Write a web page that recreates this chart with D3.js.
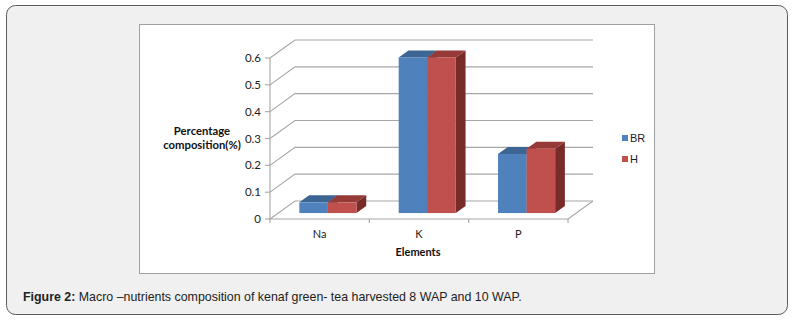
<!DOCTYPE html>
<html>
<head>
<meta charset="utf-8">
<script src="https://cdn.jsdelivr.net/npm/d3@7"></script>
<style>
  html, body { margin: 0; padding: 0; background: #ffffff; }
  svg { display: block; }
</style>
</head>
<body>
<div id="chart"></div>
<script>
// Macro-nutrient composition (%) of kenaf green tea
const categories = ["Na", "K", "P"];
const seriesNames = ["BR", "H"];
const valuesBR = [0.04, 0.58, 0.22];
const valuesH  = [0.04, 0.58, 0.24];
const yTicks = [0, 0.1, 0.2, 0.3, 0.4, 0.5, 0.6];

const seriesColors = {
  BR: { front: "#4f81bd", top: "#3d6594", side: "#385d8a" },
  H:  { front: "#c0504d", top: "#953a37", side: "#772c2a" }
};

const W = 796, H = 324;
const svg = d3.select("#chart").append("svg")
  .attr("width", W).attr("height", H);

// outer figure panel
svg.append("rect")
  .attr("x", 6.5).attr("y", 5.5).attr("width", 781).attr("height", 309)
  .attr("rx", 9).attr("ry", 9)
  .attr("fill", "#f0f0f0").attr("stroke", "#5a5a5a").attr("stroke-width", 1);

// chart area
svg.append("rect")
  .attr("x", 139.5).attr("y", 24.5).attr("width", 515).attr("height", 249)
  .attr("fill", "#ffffff").attr("stroke", "#a0a0a0").attr("stroke-width", 1);

// scales (front plane) plus an oblique depth offset
const x = d3.scaleBand().domain(categories).range([270, 568]).paddingInner(0).paddingOuter(0);
const y = d3.scaleLinear().domain([0, 0.6]).range([219, 58]);
const DX = 25, DY = -18;
const proj = (px, py, z) => [px + z * DX, py + z * DY];

const grid = svg.append("g").attr("fill", "none").attr("stroke", "#a6a6a6").attr("stroke-width", 1.1);

// side wall diagonals + back wall gridlines
yTicks.forEach(t => {
  const [x0, y0] = proj(270, y(t), 0);
  const [x1, y1] = proj(270, y(t), 1);
  const [x2, y2] = proj(568, y(t), 1);
  grid.append("path").attr("d", `M${x0},${y0}L${x1},${y1}L${x2},${y2}`);
});

// floor outline
{
  const a = proj(270, y(0), 0), b = proj(568, y(0), 0), c = proj(568, y(0), 1);
  grid.append("path").attr("d", `M${a[0]},${a[1]}L${b[0]},${b[1]}L${c[0]},${c[1]}`);
}

// vertical value axis with ticks
const axisG = svg.append("g");
axisG.append("line")
  .attr("x1", 270).attr("x2", 270).attr("y1", y(0.6)).attr("y2", y(0))
  .attr("stroke", "#a6a6a6").attr("stroke-width", 1.1);
yTicks.forEach(t => {
  axisG.append("line")
    .attr("x1", 265).attr("x2", 270).attr("y1", y(t)).attr("y2", y(t))
    .attr("stroke", "#a6a6a6").attr("stroke-width", 1.1);
  axisG.append("text")
    .attr("x", 261).attr("y", y(t)).attr("dy", "0.35em")
    .attr("text-anchor", "end")
    .attr("font-family", "Lato, 'Open Sans', sans-serif").attr("font-size", 11.5)
    .attr("fill", "#222")
    .text(t === 0 ? "0" : d3.format(".1f")(t));
});

// category ticks on the front floor edge
const catEdges = [270].concat(categories.map(c => x(c) + x.bandwidth()));
catEdges.forEach(v => {
  axisG.append("line")
    .attr("x1", v).attr("x2", v).attr("y1", y(0)).attr("y2", y(0) + 4)
    .attr("stroke", "#a6a6a6").attr("stroke-width", 1.1);
});

categories.forEach(c => {
  axisG.append("text")
    .attr("x", x(c) + x.bandwidth() / 2).attr("y", 234).attr("dy", "0.35em")
    .attr("text-anchor", "middle")
    .attr("font-family", "Lato, 'Open Sans', sans-serif").attr("font-size", 11)
    .attr("fill", "#222").text(c);
});

// axis titles
svg.append("text")
  .attr("x", 418).attr("y", 252).attr("dy", "0.35em").attr("text-anchor", "middle")
  .attr("font-family", "Lato, 'Open Sans', sans-serif").attr("font-size", 11)
  .attr("font-weight", "bold").attr("fill", "#111").text("Elements");

const yTitle = svg.append("text")
  .attr("text-anchor", "middle")
  .attr("font-family", "Lato, 'Open Sans', sans-serif").attr("font-size", 11.3)
  .attr("font-weight", "bold").attr("fill", "#111");
yTitle.append("tspan").attr("x", 202).attr("y", 135).text("Percentage");
yTitle.append("tspan").attr("x", 202).attr("y", 149).text("composition(%)");

// 3D columns
const zFront = 0.33, zBack = 0.72;
const groupFrac = 0.575;
const inner = d3.scaleBand().domain(seriesNames).range([0, x.bandwidth() * groupFrac]);
const data = [];
categories.forEach((c, i) => {
  data.push({ cat: c, series: "BR", value: valuesBR[i] });
  data.push({ cat: c, series: "H", value: valuesH[i] });
});

const barsG = svg.append("g");
data.forEach(d => {
  const x0 = x(d.cat) + x.bandwidth() * (1 - groupFrac) / 2 + inner(d.series);
  const x1 = x0 + inner.bandwidth();
  const yTop = y(d.value), yBase = y(0);
  const col = seriesColors[d.series];
  const p = (px, py, z) => proj(px, py, z).join(",");
  // side face
  barsG.append("path")
    .attr("d", `M${p(x1, yTop, zFront)}L${p(x1, yTop, zBack)}L${p(x1, yBase, zBack)}L${p(x1, yBase, zFront)}Z`)
    .attr("fill", col.side);
  // top face
  barsG.append("path")
    .attr("d", `M${p(x0, yTop, zFront)}L${p(x0, yTop, zBack)}L${p(x1, yTop, zBack)}L${p(x1, yTop, zFront)}Z`)
    .attr("fill", col.top);
  // front face
  const [fx, fy] = proj(x0, yTop, zFront);
  barsG.append("rect")
    .attr("x", fx).attr("y", fy)
    .attr("width", x1 - x0).attr("height", yBase - yTop)
    .attr("fill", col.front);
});

// legend
const legend = svg.append("g");
seriesNames.forEach((s, i) => {
  const ly = 138 + i * 21;
  legend.append("rect")
    .attr("x", 622).attr("y", ly - 3).attr("width", 6).attr("height", 6)
    .attr("fill", seriesColors[s].front);
  legend.append("text")
    .attr("x", 630).attr("y", ly).attr("dy", "0.35em")
    .attr("font-family", "'Liberation Sans', Arial, sans-serif").attr("font-size", 11)
    .attr("fill", "#222").text(s);
});

// caption
const cap = svg.append("text")
  .attr("x", 23).attr("y", 297).attr("dy", "0.35em")
  .attr("font-family", "'Liberation Sans', Arial, sans-serif").attr("font-size", 12.4)
  .attr("fill", "#222");
cap.append("tspan").attr("font-weight", "bold").text("Figure 2:");
cap.append("tspan").text(" Macro \u2013nutrients composition of kenaf green- tea harvested 8 WAP and 10 WAP.");
</script>
</body>
</html>
